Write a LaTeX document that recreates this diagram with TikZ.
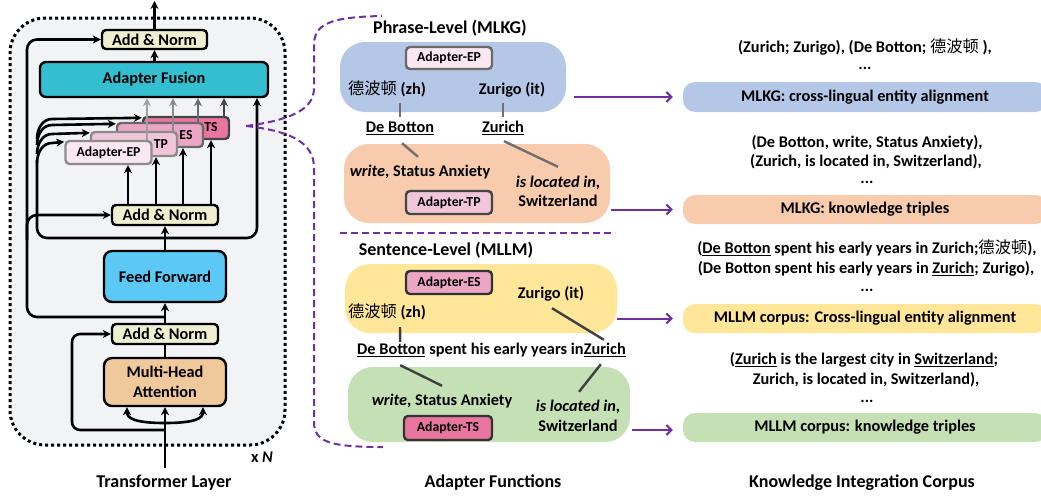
\documentclass[tikz,border=0pt]{standalone}
\usepackage{fontspec}
\setmainfont{Carlito}
\newfontfamily\cjk{Noto Sans CJK SC}
\usetikzlibrary{arrows.meta}
\definecolor{panelbg}{HTML}{F2F3F5}
\definecolor{anfill}{HTML}{EEEFD0}
\definecolor{fusefill}{HTML}{33BFCF}
\definecolor{fffill}{HTML}{5BC8F5}
\definecolor{mhafill}{HTML}{EFC89B}
\definecolor{epfill}{HTML}{F9E8EF}
\definecolor{tpfill}{HTML}{F0C6DA}
\definecolor{esfill}{HTML}{EBA6C6}
\definecolor{tsfill}{HTML}{E8769F}
\definecolor{kblue}{HTML}{B4C7E7}
\definecolor{korange}{HTML}{F8CBAD}
\definecolor{kyellow}{HTML}{FFE699}
\definecolor{kgreen}{HTML}{C5E0B4}
\definecolor{kpurple}{HTML}{7030A0}
\definecolor{gA}{HTML}{A0A0A0}
\definecolor{gB}{HTML}{8C8C8C}
\definecolor{gC}{HTML}{6A6A6A}
\definecolor{gD}{HTML}{454545}
\definecolor{gE}{HTML}{333333}
\definecolor{lineA}{HTML}{707070}
\definecolor{lineB}{HTML}{404040}
\newcommand\myul[1]{\setbox0=\hbox{#1}\rlap{\rule[-3pt]{\wd0}{1.5pt}}\box0\relax}
\begin{document}
\begin{tikzpicture}[x=1pt,y=-1pt,
  f16/.style={font=\fontsize{16.3}{19}\selectfont\bfseries},
  f18/.style={font=\fontsize{18}{22}\selectfont\bfseries},
  f13/.style={font=\fontsize{13.7}{16}\selectfont\bfseries},
  blk/.style={draw=black, line width=2.4pt, rounded corners=4pt, inner sep=0pt, f16},
  lin/.style={line width=2.6pt, black},
  arr/.style={lin, -{Stealth[length=8pt,width=8pt]}},
  adp/.style={draw, line width=2.4pt, rounded corners=4pt, inner sep=0pt, f13, minimum width=86pt},
  kbox/.style={rounded corners=25pt, inner sep=0pt},
  rbox/.style={rounded corners=12pt, inner sep=0pt, minimum width=364pt, minimum height=30pt, text height=11pt, text depth=3pt, f16},
  txt/.style={f16, inner sep=0pt, text height=11pt, text depth=3pt},
  frag/.style={f13, inner sep=0pt},
  glA/.style={line width=2.4pt, lineA},
  glB/.style={line width=2.4pt, lineB},
  pdash/.style={kpurple, line width=2pt, dash pattern=on 7pt off 4pt},
  parr/.style={kpurple, line width=2pt, -{Straight Barb[length=5pt,width=10pt]}},
]
\useasboundingbox (0,0) rectangle (1041,499);

% ---------------- Transformer layer ----------------
\node[draw, line width=3pt, dash pattern=on 3pt off 3pt, fill=panelbg, rounded corners=35pt,
      minimum width=275pt, minimum height=427pt, inner sep=0pt] (panel) at (147.5,231.5) {};

\node[blk, fill=anfill, minimum width=105pt, minimum height=19pt] (an3) at (154.5,39.5) {Add \& Norm};
\node[blk, fill=fusefill, minimum width=228pt, minimum height=35pt, rounded corners=6pt] (fuse) at (154,79.5) {Adapter Fusion};

\node[adp, draw=gD, fill=tsfill, minimum height=22pt] (aTS) at (186,128) {};
\node[frag] (lTS) at (211,127.5) {TS};
\node[adp, draw=gC, fill=esfill, minimum height=24pt] (aES) at (160,135) {};
\node[frag] (lES) at (186,135.5) {ES};
\node[adp, draw=gB, fill=tpfill, minimum height=24pt] (aTP) at (134,144) {};
\node[frag] (lTP) at (161,144) {TP};
\node[adp, draw=gB, fill=epfill, minimum height=23pt] (aEP) at (108.5,152.5) {Adapter-EP};

\node[blk, fill=anfill, minimum width=106pt, minimum height=20pt] (an2) at (165,215) {Add \& Norm};
\node[blk, fill=fffill, minimum width=122pt, minimum height=51pt, rounded corners=8pt] (ff) at (165,276.5) {Feed Forward};
\node[blk, fill=anfill, minimum width=106pt, minimum height=20pt] (an1) at (165,334) {Add \& Norm};
\node[blk, fill=mhafill, minimum width=122pt, minimum height=48pt, rounded corners=8pt, align=center,
      font=\fontsize{16.3}{20}\selectfont\bfseries] (mha) at (165,382) {Multi-Head\\Attention};

\coordinate (inp) at (165,468);
\draw[arr] (inp) -- (mha.south);
\draw[arr] (165,423) .. controls (134,423) and (127,418) .. ([xshift=-38pt]mha.south);
\draw[arr] (165,423) .. controls (196,423) and (203,418) .. ([xshift=38pt]mha.south);
\draw[arr, rounded corners=8pt] (165,430) -| (72,334) -- (an1.west);
\draw[lin] (mha.north) -- (an1.south);
\draw[arr] (an1.north) -- (ff.south);
\draw[arr, rounded corners=10pt] (165,317) -| (27,39.5) -- (an3.west);
\draw[arr, rounded corners=10pt] (27,240) |- (an2.west);
\draw[arr] (ff.north) -- (an2.south);
\draw[arr, rounded corners=10pt] (37,160) |- (257,238) -- (257,0 |- fuse.south);

\draw[arr] (37,139) to[out=90,in=180] (52,119) -- ([yshift=-2pt]aTS.north west);
\draw[arr] (37,145) to[out=90,in=180] (52,125) -- ([yshift=-2pt]aES.north west);
\draw[arr] (37,154) to[out=90,in=180] (52,134) -- ([yshift=-2pt]aTP.north west);
\draw[arr] (37,163) to[out=90,in=180] (52,143) -- ([yshift=-2pt]aEP.north west);

\draw[arr] (128,0 |- an2.north) -- (128,0 |- aEP.south);
\draw[arr] (156,0 |- an2.north) -- (156,0 |- aTP.south);
\draw[arr] (183,0 |- an2.north) -- (183,0 |- aES.south);
\draw[arr] (211,0 |- an2.north) -- (211,0 |- aTS.south);

\draw[arr, gA] (147,0 |- aEP.north) -- (147,0 |- fuse.south);
\draw[arr, gB] (173,0 |- aTP.north) -- (173,0 |- fuse.south);
\draw[arr, gC] (198,0 |- aES.north) -- (198,0 |- fuse.south);
\draw[arr, gD] (224,0 |- aTS.north) -- (224,0 |- fuse.south);

\draw[arr] (fuse.north -| an3.south) -- (an3.south);
\draw[arr] (an3.north) -- (an3.north |- 0,1);

\node[txt] (xn) at (262,458) {x \textit{N}};
\node[f18, inner sep=0pt] (lab1) at (164,483) {Transformer Layer};

% ---------------- purple dashed brace ----------------
\coordinate (pst) at ([xshift=16pt,yshift=2pt]aTS.east);
\draw[pdash] (pst) .. controls (290,120) and (314,110) .. (314,88) -- (314,45)
   .. controls (314,24) and (330,17) .. (382,16);
\draw[pdash] (pst) .. controls (290,131) and (314,142) .. (314,168) -- (314,422)
   .. controls (314,442) and (330,447) .. (383,447);
\draw[pdash] (340,233) -- (615,233);

% ---------------- Adapter functions ----------------
\node[f18, inner sep=0pt] (ttl1) at (450,28) {Phrase-Level (MLKG)};
\node[kbox, fill=kblue, minimum width=226pt, minimum height=70pt] (blue) at (453,77) {};
\node[adp, draw=gC, fill=epfill, minimum height=22pt] (mEP) at (449,58) {Adapter-EP};
\node[txt] (zh1) at (387,90) {{\cjk\mdseries 德波顿} (zh)};
\node[txt] (it1) at (512,90) {Zurigo (it)};
\node[txt] (db1) at (400,128) {\myul{De Botton}};
\node[txt] (zu1) at (503,128) {\myul{Zurich}};
\node[kbox, fill=korange, minimum width=266pt, minimum height=79pt] (orange) at (477,183.5) {};
\node[txt] (wr1) at (420,172) {\textit{write}, Status Anxiety};
\node[txt] (loc1) at (558,183) {\textit{is located in,}};
\node[txt] (sw1) at (558,202) {Switzerland};
\node[adp, draw=gD, fill=tpfill, minimum height=23pt] (mTP) at (449,202.5) {Adapter-TP};

\draw[glA] ([shift={(13,6)}]zh1.south) -- ([shift={(0,-4)}]db1.north);
\draw[glA] ([shift={(-9,6)}]it1.south) -- ([shift={(0,-4)}]zu1.north);
\draw[glA] ([shift={(2,8)}]db1.south) -- ([shift={(-2,-8)}]wr1.north);
\draw[glA] ([shift={(1,6)}]zu1.south) -- ([shift={(0,-9)}]loc1.north);

\node[f18, inner sep=0pt] (ttl2) at (446,250) {Sentence-Level (MLLM)};
\node[kbox, fill=kyellow, minimum width=272pt, minimum height=69pt] (yellow) at (481,298.5) {};
\node[adp, draw=gE, fill=esfill, minimum height=23pt] (mES) at (449,282.5) {Adapter-ES};
\node[txt] (it2) at (551,294) {Zurigo (it)};
\node[txt] (zh2) at (387,313) {{\cjk\mdseries 德波顿} (zh)};
\node[txt, anchor=base west] (db2) at (357,354) {\myul{De Botton}};
\node[txt, anchor=base west] (sp2) at (db2.base east) {\ spent his early years in};
\node[txt, anchor=base west] (zu2) at (sp2.base east) {\myul{Zurich}};
\node[kbox, fill=kgreen, minimum width=282pt, minimum height=75pt] (green) at (489,404.5) {};
\node[txt] (wr2) at (442,401) {\textit{write}, Status Anxiety};
\node[adp, draw=gE, fill=tsfill, minimum height=24pt, minimum width=88pt] (mTS) at (448,428) {Adapter-TS};
\node[txt] (loc2) at (578,407) {\textit{is located in,}};
\node[txt] (sw2) at (578,427) {Switzerland};

\draw[glB] ([shift={(13,7)}]zh2.south) -- ([shift={(9,-1)}]db2.north);
\draw[glB] ([shift={(1,7)}]it2.south) -- ([shift={(-1,-3)}]zu2.north);
\draw[glB] ([shift={(9,8)}]db2.south) -- ([shift={(0,-8)}]wr2.north);
\draw[glB] ([shift={(-4,7)}]zu2.south) -- ([shift={(1,-8)}]loc2.north);

\node[f18, inner sep=0pt] (lab2) at (493,483) {Adapter Functions};

% ---------------- Knowledge integration corpus ----------------
\node[rbox, fill=kblue] (r1) at (865,97) {MLKG: cross-lingual entity alignment};
\node[rbox, fill=korange, minimum height=29pt] (r2) at (865,209.5) {MLKG: knowledge triples};
\node[rbox, fill=kyellow, minimum height=29pt] (r3) at (865,318.5) {MLLM corpus: Cross-lingual entity alignment};
\node[rbox, fill=kgreen, minimum height=29pt] (r4) at (865,427.5) {MLLM corpus: knowledge triples};

\node[txt] (t1a) at (865,48) {(Zurich; Zurigo), (De Botton; {\cjk\mdseries 德波顿} ),};
\node[txt] (t1b) at (865,65.5) {...};
\node[txt] (t2a) at (867,143) {(De Botton, write, Status Anxiety),};
\node[txt] (t2b) at (866,162) {(Zurich, is located in, Switzerland),};
\node[txt] (t2c) at (867,179.5) {...};
\node[txt] (t3a) at (867,249) {(\myul{De Botton} spent his early years in Zurich;{\cjk\mdseries 德波顿}),};
\node[txt] (t3b) at (866,269) {(De Botton spent his early years in \myul{Zurich}; Zurigo),};
\node[txt] (t3c) at (867,287.5) {...};
\node[txt] (t4a) at (864,360) {(\myul{Zurich} is the largest city in \myul{Switzerland};};
\node[txt] (t4b) at (866,380) {Zurich, is located in, Switzerland),};
\node[txt] (t4c) at (867,398.5) {...};

\node[f18, inner sep=0pt] (lab3) at (862,483) {Knowledge Integration Corpus};

\draw[parr] (r1.west -| blue.east) ++(8,0) -- ([xshift=-10pt]r1.west);
\draw[parr] (r2.west -| orange.east) ++(1,0) -- ([xshift=-10pt]r2.west);
\draw[parr] (r3.west -| yellow.east) -- ([xshift=-10pt]r3.west);
\draw[parr] ([yshift=-2.5pt]r4.west -| green.east) ++(2,0) -- ([xshift=-10pt,yshift=-2.5pt]r4.west);
\end{tikzpicture}
\end{document}
